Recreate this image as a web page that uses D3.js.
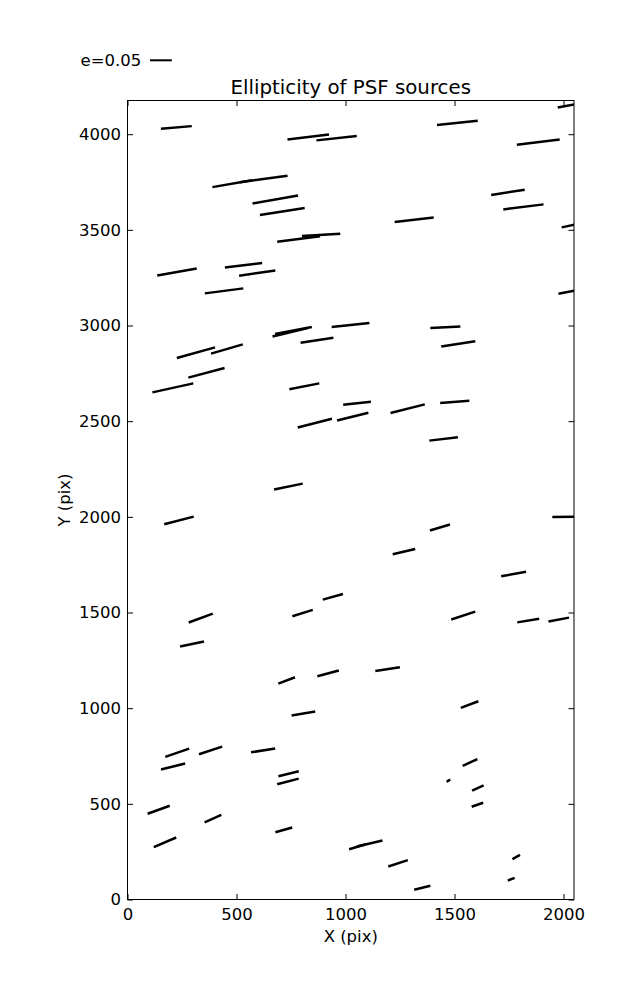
<!DOCTYPE html>
<html>
<head>
<meta charset="utf-8">
<script src="https://cdn.jsdelivr.net/npm/d3@7"></script>
<style>
  html, body { margin: 0; padding: 0; background: #fff; }
  svg { display: block; }
  text { font-family: "DejaVu Sans", sans-serif; fill: #000; }
</style>
</head>
<body>
<svg id="chart" width="637" height="1000"></svg>
<script>
// ---- data (detector pixel coordinates, ellipticity, position angle in degrees) ----
const srcX = [224, 829, 959, 480, 625, 678, 710, 785, 888, 227, 532, 595, 443, 2048, 1513, 1884, 1745, 1816, 1315, 2048,
              2048, 746, 761, 869, 1023, 314, 456, 362, 208, 811, 1053, 1033, 859, 738, 1458, 1517, 1285, 1501, 1450, 236,
              336, 296, 803, 942, 730, 920, 1433, 1268, 2048, 1771, 1540, 1838, 1978, 1193, 1569, 807, 228, 381, 622, 209,
              739, 736, 143, 392, 717, 172, 1053, 1111, 1571, 1472, 1607, 1605, 1241, 1352, 1783, 1760];
const srcY = [4035, 3985, 3979, 3741, 3766, 3659, 3596, 3452, 3474, 3280, 3315, 3274, 3181, 4155, 4059, 3959, 3696, 3620, 3553, 3527,
              3182, 2965, 2974, 2923, 3003, 2858, 2877, 2753, 2674, 2682, 2594, 2524, 2490, 2158, 2991, 2904, 2565, 2601, 2407, 1981,
              1471, 1335, 1497, 1582, 1145, 1182, 1944, 1818, 2001, 1701, 1484, 1458, 1463, 1204, 1019, 972, 767, 779, 779, 695,
              657, 617, 469, 423, 364, 299, 275, 293, 716, 621, 583, 495, 189, 61, 222, 106];
const ell  = [0.071, 0.096, 0.093, 0.092, 0.110, 0.106, 0.104, 0.099, 0.088, 0.092, 0.086, 0.084, 0.089, 0.076, 0.094, 0.099, 0.078, 0.093, 0.090, 0.058,
              0.073, 0.083, 0.086, 0.076, 0.087, 0.091, 0.076, 0.086, 0.096, 0.070, 0.064, 0.074, 0.081, 0.067, 0.069, 0.079, 0.081, 0.067, 0.066, 0.070,
              0.059, 0.056, 0.049, 0.048, 0.041, 0.051, 0.048, 0.053, 0.0995, 0.058, 0.058, 0.051, 0.048, 0.057, 0.043, 0.055, 0.058, 0.056, 0.056, 0.057,
              0.048, 0.051, 0.054, 0.042, 0.040, 0.056, 0.038, 0.060, 0.037, 0.010, 0.029, 0.028, 0.047, 0.038, 0.020, 0.017];
const posAng = [5.0, 6.8, 6.2, 9.7, 7.8, 10.0, 8.9, 7.1, 3.4, 10.1, 6.8, 8.4, 7.4, 10.4, 6.0, 7.0, 8.9, 7.1, 6.7, 12.4,
                10.8, 13.5, 10.8, 8.7, 6.1, 15.5, 16.2, 14.9, 12.4, 11.3, 6.2, 13.8, 14.4, 11.8, 3.1, 8.4, 14.2, 4.5, 6.6, 14.5,
                20.3, 11.8, 17.4, 15.7, 20.7, 14.9, 16.7, 13.4, 0.8, 10.1, 18.4, 9.5, 10.9, 8.3, 20.6, 9.6, 19.1, 18.3, 8.8, 14.0,
                13.8, 14.7, 20.0, 24.0, 15.5, 23.2, 16.4, 13.3, 24.3, 32.6, 24.4, 19.0, 18.0, 14.0, 29.7, 21.1];
const xTicks = [0, 500, 1000, 1500, 2000];
const yTicks = [0, 500, 1000, 1500, 2000, 2500, 3000, 3500, 4000];
const keyE = 0.05;
const keyLabel = "e=0.05";
const titleText = "Ellipticity of PSF sources";
const xLabel = "X (pix)";
const yLabel = "Y (pix)";
const xMax = 2048, yMax = 4176;
const whiskerScale = 2000; // pixels of detector per unit ellipticity

// ---- layout ----
const L = 127.5, R = 574, T = 100.5, B = 899.5;
const svg = d3.select("#chart");
const x = d3.scaleLinear().domain([0, xMax]).range([L, R]);
const y = d3.scaleLinear().domain([0, yMax]).range([B, T]);
const fs = 16.5;

svg.append("defs").append("clipPath").attr("id", "clip")
  .append("rect").attr("x", L).attr("y", T).attr("width", R - L).attr("height", B - T);

// whiskers
const data = srcX.map((d, i) => ({ x: d, y: srcY[i], e: ell[i], a: posAng[i] }));
const halfLen = d => (x(d.e * whiskerScale) - x(0)) / 2;
svg.append("g").attr("clip-path", "url(#clip)")
  .selectAll("line").data(data).join("line")
  .attr("x1", d => x(d.x) - halfLen(d) * Math.cos(d.a * Math.PI / 180))
  .attr("y1", d => y(d.y) + halfLen(d) * Math.sin(d.a * Math.PI / 180))
  .attr("x2", d => x(d.x) + halfLen(d) * Math.cos(d.a * Math.PI / 180))
  .attr("y2", d => y(d.y) - halfLen(d) * Math.sin(d.a * Math.PI / 180))
  .attr("stroke", "#000").attr("stroke-width", 2.5).attr("stroke-linecap", "butt");

// axes (ticks inward, classic style)
const tk = -5.5;
const gB = svg.append("g").attr("transform", `translate(0,${B})`)
  .call(d3.axisBottom(x).tickValues(xTicks).tickFormat(d3.format("d")).tickSize(tk).tickSizeOuter(0).tickPadding(8.8));
const gL = svg.append("g").attr("transform", `translate(${L},0)`)
  .call(d3.axisLeft(y).tickValues(yTicks).tickFormat(d3.format("d")).tickSize(tk).tickSizeOuter(0).tickPadding(6.5));
const gT = svg.append("g").attr("transform", `translate(0,${T})`)
  .call(d3.axisTop(x).tickValues(xTicks).tickFormat("").tickSize(tk).tickSizeOuter(0));
const gR = svg.append("g").attr("transform", `translate(${R},0)`)
  .call(d3.axisRight(y).tickValues(yTicks).tickFormat("").tickSize(tk).tickSizeOuter(0));
[gB, gL, gT, gR].forEach(g => {
  g.select(".domain").remove();
  g.selectAll("line").attr("stroke", "#000").attr("stroke-width", 1);
  g.selectAll("text").attr("font-size", fs).attr("font-family", "DejaVu Sans").attr("fill", "#000");
});

// frame
svg.append("rect").attr("x", L).attr("y", T).attr("width", R - L).attr("height", B - T)
  .attr("fill", "none").attr("stroke", "#000").attr("stroke-width", 1);

// title and labels
svg.append("text").attr("x", (L + R) / 2).attr("y", 93.5).attr("text-anchor", "middle")
  .attr("font-size", 19.8).text(titleText);
svg.append("text").attr("x", (L + R) / 2).attr("y", 942).attr("text-anchor", "middle")
  .attr("font-size", fs).text(xLabel);
svg.append("text").attr("transform", `translate(70,${(T + B) / 2}) rotate(-90)`).attr("text-anchor", "middle")
  .attr("font-size", fs).text(yLabel);

// key
svg.append("text").attr("x", 80.5).attr("y", 65.5).attr("font-size", fs).text(keyLabel);
svg.append("line").attr("x1", 150).attr("x2", 150 + (x(keyE * whiskerScale) - x(0)))
  .attr("y1", 60.3).attr("y2", 60.3).attr("stroke", "#000").attr("stroke-width", 2);
</script>
</body>
</html>
